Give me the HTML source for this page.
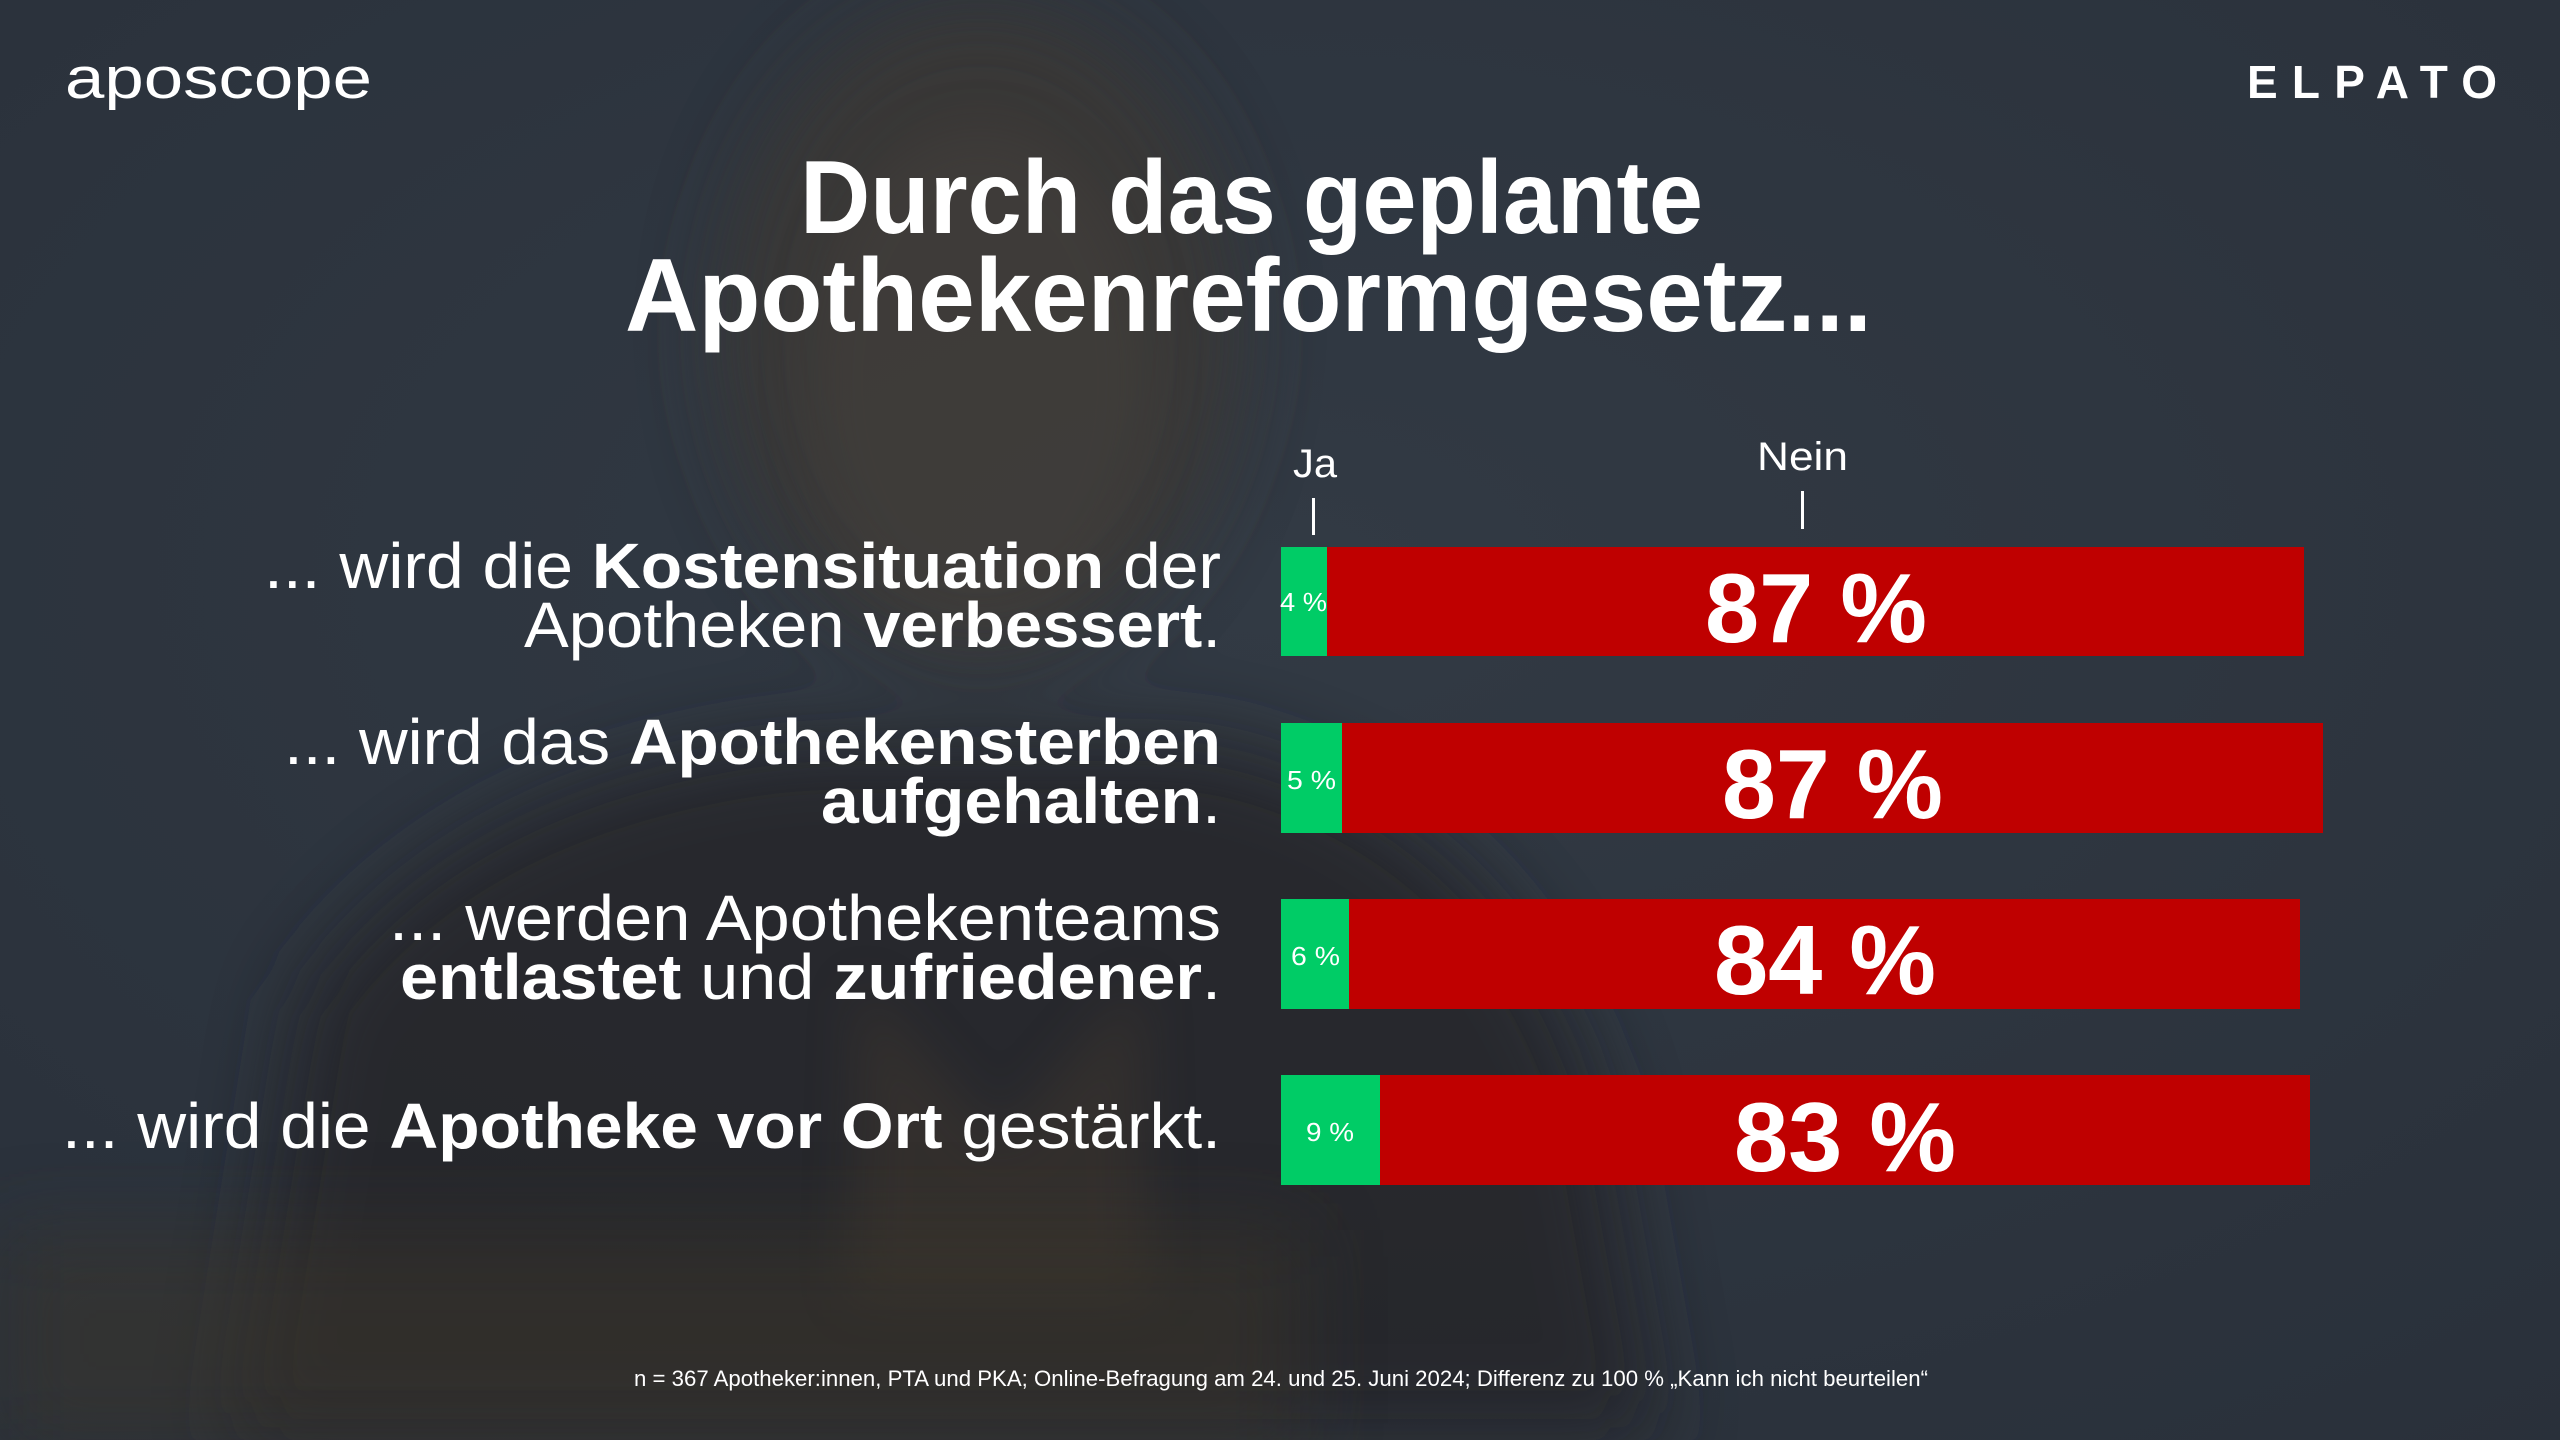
<!DOCTYPE html>
<html><head><meta charset="utf-8"><style>
html,body{margin:0;padding:0;background:#2d343d;}
svg{display:block}
text{font-family:"Liberation Sans",sans-serif;fill:#fff}
</style></head><body>
<svg width="2560" height="1440" viewBox="0 0 2560 1440" xmlns="http://www.w3.org/2000/svg">
<defs>
<radialGradient id="bg" cx="0.5" cy="0.4" r="0.8">
<stop offset="0" stop-color="#323a44"/><stop offset="1" stop-color="#29303a"/>
</radialGradient>
<filter id="bl" x="-50%" y="-50%" width="200%" height="200%"><feGaussianBlur stdDeviation="40"/></filter>
<filter id="bl2" x="-50%" y="-50%" width="200%" height="200%"><feGaussianBlur stdDeviation="25"/></filter>
</defs>
<rect width="2560" height="1440" fill="url(#bg)"/>
<g filter="url(#bl)" opacity="0.85">
<ellipse cx="980" cy="330" rx="260" ry="330" fill="#3a3835"/>
<path d="M230 1440 L300 1000 Q450 780 800 740 L1200 740 Q1500 800 1600 1100 L1660 1440 Z" fill="#25272a"/>
</g>
<g filter="url(#bl2)" opacity="0.35">
<ellipse cx="980" cy="380" rx="170" ry="250" fill="#4a4540"/>
<path d="M860 980 L1000 1140 L1140 980 L1150 1300 L850 1300 Z" fill="#4a3e2e"/>
</g>
<g filter="url(#bl)" opacity="0.5">
<rect x="0" y="1230" width="1300" height="220" fill="#3a342c"/>
</g>
<text x="65" y="98" font-size="58" textLength="307" lengthAdjust="spacingAndGlyphs">aposcope</text>
<text x="2247" y="98" font-size="46" font-weight="bold" textLength="250" lengthAdjust="spacing">ELPATO</text>
<text x="800" y="233" font-size="104" font-weight="bold" textLength="903" lengthAdjust="spacingAndGlyphs">Durch das geplante</text>
<text x="625" y="331" font-size="104" font-weight="bold" textLength="1247" lengthAdjust="spacingAndGlyphs">Apothekenreformgesetz...</text>
<text x="1293" y="477" font-size="40" textLength="44" lengthAdjust="spacingAndGlyphs">Ja</text>
<rect x="1312" y="498" width="3" height="37" fill="#fff"/>
<text x="1757" y="470" font-size="40" textLength="91" lengthAdjust="spacingAndGlyphs">Nein</text>
<rect x="1801" y="491" width="3" height="38" fill="#fff"/>
<g font-size="64">
<text x="264" y="588" textLength="957" lengthAdjust="spacingAndGlyphs">... wird die <tspan font-weight="bold">Kostensituation</tspan> der</text>
<text x="524" y="647" textLength="697" lengthAdjust="spacingAndGlyphs">Apotheken <tspan font-weight="bold">verbessert</tspan>.</text>
<text x="284" y="764" textLength="937" lengthAdjust="spacingAndGlyphs">... wird das <tspan font-weight="bold">Apothekensterben</tspan></text>
<text x="821" y="823" textLength="400" lengthAdjust="spacingAndGlyphs"><tspan font-weight="bold">aufgehalten</tspan>.</text>
<text x="389" y="940" textLength="832" lengthAdjust="spacingAndGlyphs">... werden Apothekenteams</text>
<text x="400" y="999" textLength="821" lengthAdjust="spacingAndGlyphs"><tspan font-weight="bold">entlastet</tspan> und <tspan font-weight="bold">zufriedener</tspan>.</text>
<text x="62" y="1148" textLength="1159" lengthAdjust="spacingAndGlyphs">... wird die <tspan font-weight="bold">Apotheke vor Ort</tspan> gestärkt.</text>
</g>
<rect x="1281" y="547" width="46" height="109" fill="#00cc66"/>
<rect x="1327" y="547" width="977" height="109" fill="#bf0000"/>
<rect x="1281" y="723" width="61" height="110" fill="#00cc66"/>
<rect x="1342" y="723" width="981" height="110" fill="#bf0000"/>
<rect x="1281" y="899" width="68" height="110" fill="#00cc66"/>
<rect x="1349" y="899" width="951" height="110" fill="#bf0000"/>
<rect x="1281" y="1075" width="99" height="110" fill="#00cc66"/>
<rect x="1380" y="1075" width="930" height="110" fill="#bf0000"/>
<g font-size="26">
<text x="1280" y="611" textLength="47" lengthAdjust="spacingAndGlyphs">4 %</text>
<text x="1287" y="789" textLength="49" lengthAdjust="spacingAndGlyphs">5 %</text>
<text x="1291" y="965" textLength="49" lengthAdjust="spacingAndGlyphs">6 %</text>
<text x="1306" y="1141" textLength="48" lengthAdjust="spacingAndGlyphs">9 %</text>
</g>
<g font-size="98" font-weight="bold">
<text x="1705" y="642" textLength="222" lengthAdjust="spacingAndGlyphs">87 %</text>
<text x="1722" y="818" textLength="221" lengthAdjust="spacingAndGlyphs">87 %</text>
<text x="1714" y="994" textLength="222" lengthAdjust="spacingAndGlyphs">84 %</text>
<text x="1734" y="1171" textLength="222" lengthAdjust="spacingAndGlyphs">83 %</text>
</g>
<text x="634" y="1386" font-size="22" textLength="1294" lengthAdjust="spacingAndGlyphs">n = 367 Apotheker:innen, PTA und PKA; Online-Befragung am 24. und 25. Juni 2024; Differenz zu 100 % „Kann ich nicht beurteilen“</text>
</svg>
</body></html>
